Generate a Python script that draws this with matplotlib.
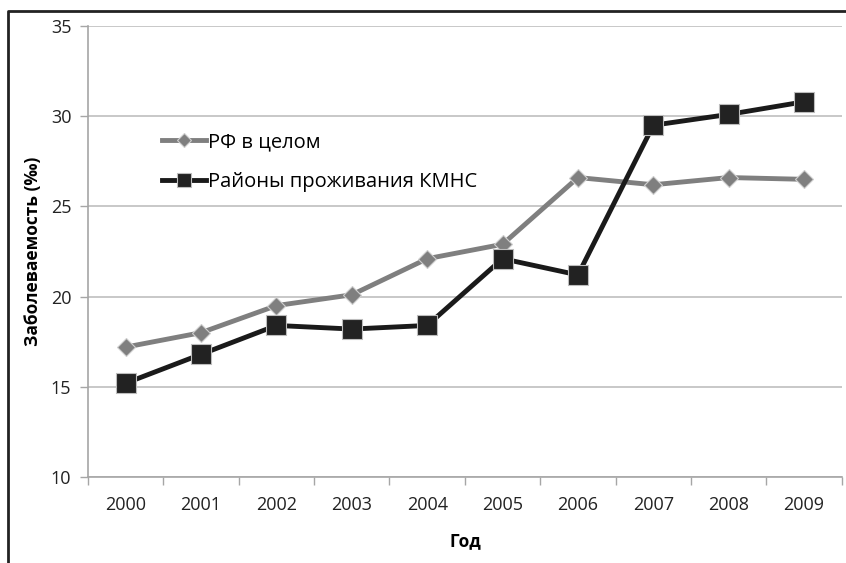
import numpy as np
import matplotlib.pyplot as plt
from matplotlib.lines import Line2D

plt.rcParams['font.family'] = ['Open Sans', 'DejaVu Sans']

years = ['2000', '2001', '2002', '2003', '2004', '2005', '2006', '2007', '2008', '2009']
rf_total = [17.2, 18.0, 19.5, 20.1, 22.1, 22.9, 26.6, 26.2, 26.6, 26.5]
kmns = [15.2, 16.8, 18.4, 18.2, 18.4, 22.1, 21.2, 29.5, 30.1, 30.8]

fig = plt.figure(figsize=(8.46, 5.63), dpi=100)
ax = fig.add_axes([0.104, 0.1528, 0.891, 0.801])

x = np.arange(len(years))
ax.plot(x, rf_total, color='#7f7f7f', lw=3.5, marker='D', ms=9,
        mfc='#7f7f7f', mec='#cfcfcf', mew=0.8, label='РФ в целом', zorder=3)
ax.plot(x, kmns, color='#1a1a1a', lw=3.5, marker='s', ms=14,
        mfc='#222222', mec='#bdbdbd', mew=0.8, label='Районы проживания КМНС', zorder=4)

ax.set_ylim(10, 35)
ax.set_yticks([10, 15, 20, 25, 30, 35])
ax.set_xlim(-0.5, len(years) - 0.5)
ax.set_xticks(x)
ax.set_xticklabels(years)
ax.set_xticks(np.arange(-0.5, len(years)), minor=True)
ax.tick_params(axis='x', which='major', length=0, pad=14, labelsize=13, colors='#222222')
ax.tick_params(axis='x', which='minor', length=6, color='#a6a6a6', width=1)
ax.tick_params(axis='y', length=6, color='#a6a6a6', width=1, labelsize=13, colors='#222222', pad=6)

ax.grid(axis='y', color='#bfbfbf', lw=1.2)
ax.set_axisbelow(True)
for s in ['top', 'right']:
    ax.spines[s].set_visible(False)
for s in ['left', 'bottom']:
    ax.spines[s].set_color('#a6a6a6')
    ax.spines[s].set_linewidth(1.2)

ax.set_xlabel('Год', fontsize=12.5, fontweight='bold', labelpad=13)
ax.set_ylabel('Заболеваемость (‰)', fontsize=12.5, fontweight='bold', labelpad=6)

ax.legend(loc='center left', bbox_to_anchor=(0.098, 0.698), frameon=False,
          fontsize=14.5, handlelength=2.2, handletextpad=0.1, labelspacing=1.0,
          markerscale=0.75, borderpad=0, borderaxespad=0)

# рамка вокруг рисунка
top = 1 - 11 / 563
left = 8 / 846
frame = Line2D([left, left, 1.0], [0.0, top, top], transform=fig.transFigure,
               color='#222222', lw=2, clip_on=False, zorder=10)
fig.add_artist(frame)

fig.savefig('out.png', dpi=100)
